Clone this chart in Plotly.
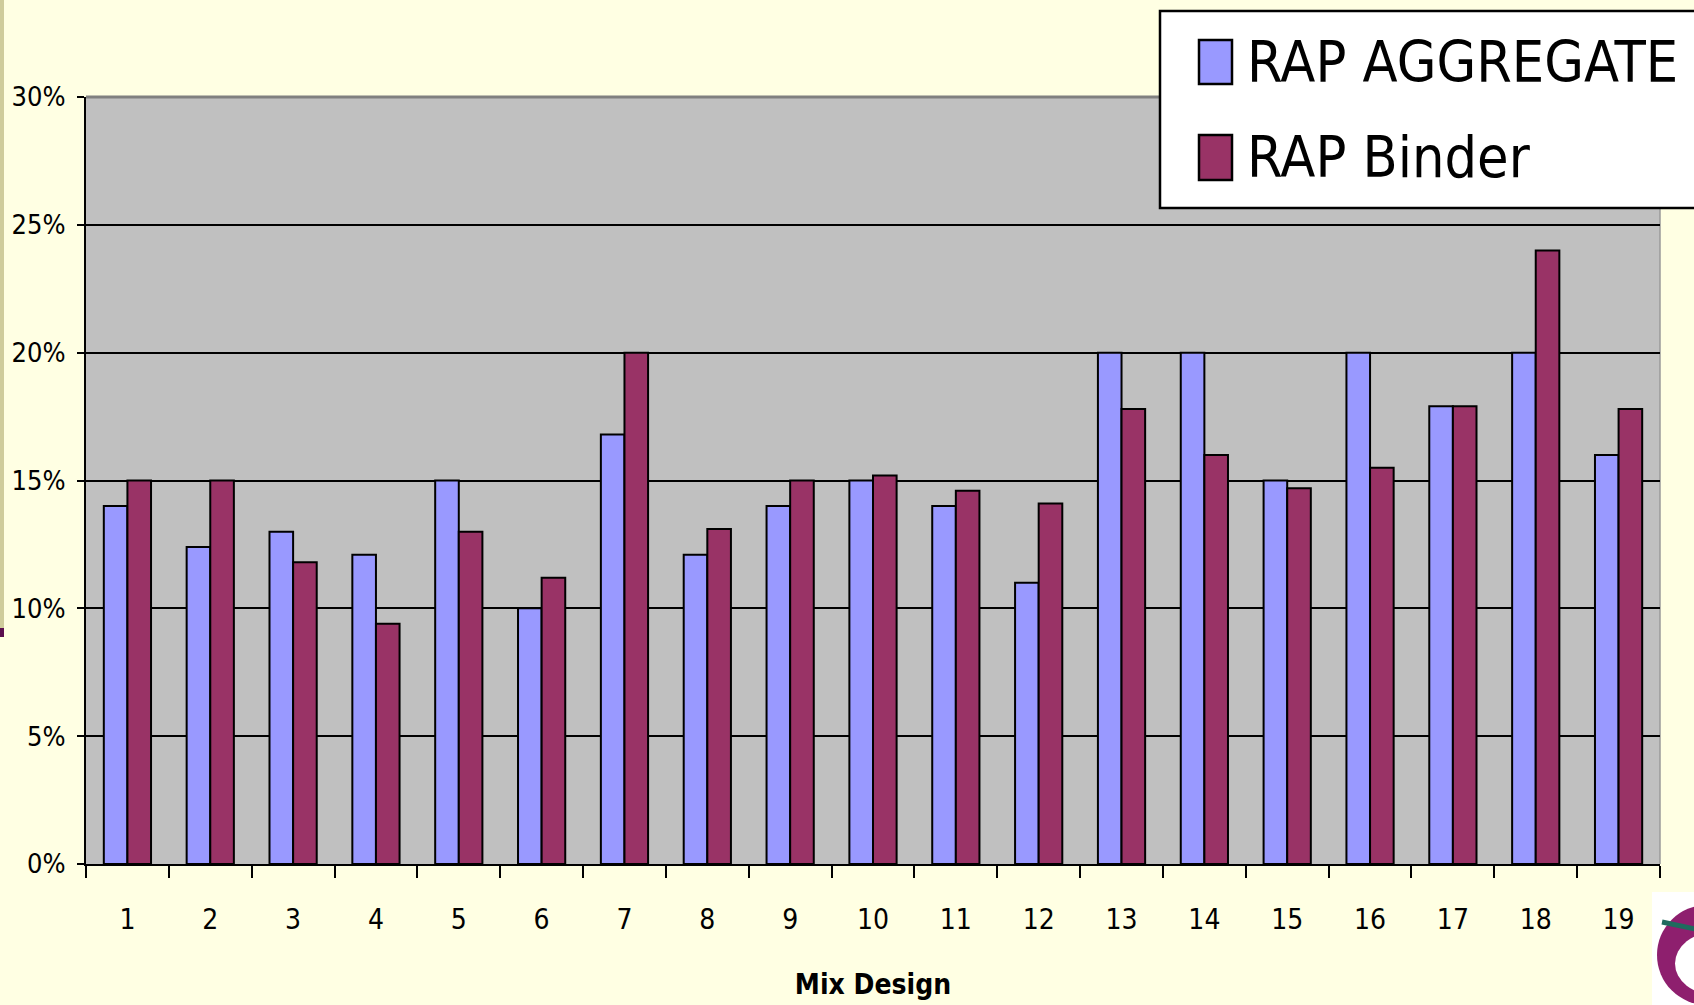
import plotly.graph_objects as go

# ---------------- data ----------------
mix_designs = [str(i) for i in range(1, 20)]
series_names = ["RAP AGGREGATE", "RAP Binder"]
rap_aggregate = [14, 12.4, 13, 12.1, 15, 10, 16.8, 12.1, 14, 15,
                 14, 11, 20, 20, 15, 20, 17.9, 20, 16]
rap_binder = [15, 15, 11.8, 9.4, 13, 11.2, 20, 13.1, 15, 15.2,
              14.6, 14.1, 17.8, 16, 14.7, 15.5, 17.9, 24, 17.8]
y_ticks = [0, 5, 10, 15, 20, 25, 30]
y_ticklabels = ["0%", "5%", "10%", "15%", "20%", "25%", "30%"]
x_title = "Mix Design"

# ---------------- style ----------------
W, H = 1694, 1005
ML, MR, MT, MB = 86, 34, 97, 141
PW, PH = W - ML - MR, H - MT - MB
FONT = "Liberation Sans Narrow, DejaVu Sans Condensed, Roboto Condensed, Roboto, sans-serif"
C_AGG = "#9999FF"
C_BIN = "#993366"
BG = "#FFFFE3"


def px2x(px):
    return (px - ML) / PW


def px2y(py):
    return (H - MB - py) / PH


fig = go.Figure()
fig.add_trace(go.Bar(x=mix_designs, y=rap_aggregate, name=series_names[0],
                     marker=dict(color=C_AGG, line=dict(color="black", width=2)),
                     showlegend=False))
fig.add_trace(go.Bar(x=mix_designs, y=rap_binder, name=series_names[1],
                     marker=dict(color=C_BIN, line=dict(color="black", width=2)),
                     showlegend=False))

shapes = []
# grey top / right border of plot area
shapes.append(dict(type="line", xref="paper", yref="paper", x0=0, x1=1, y0=1, y1=1,
                   line=dict(color="#808080", width=3), layer="above"))
shapes.append(dict(type="line", xref="paper", yref="paper", x0=1, x1=1, y0=0, y1=1,
                   line=dict(color="#9A9A9A", width=1.5), layer="below"))
# left edge strip of the slide
shapes.append(dict(type="rect", xref="paper", yref="paper", x0=px2x(0), x1=px2x(4),
                   y0=px2y(628), y1=px2y(0), fillcolor="#CFCC9C", line=dict(width=0)))
shapes.append(dict(type="rect", xref="paper", yref="paper", x0=px2x(0), x1=px2x(4),
                   y0=px2y(637), y1=px2y(628), fillcolor="#5B0F4F", line=dict(width=0)))
# logo fragment (bottom right)
shapes.append(dict(type="rect", xref="paper", yref="paper", x0=px2x(1652), x1=px2x(1700),
                   y0=px2y(1010), y1=px2y(892), fillcolor="white", line=dict(width=0)))
shapes.append(dict(type="circle", xref="paper", yref="paper", x0=px2x(1657), x1=px2x(1757),
                   y0=px2y(1005), y1=px2y(905), fillcolor="#8E1F6E", line=dict(width=0)))
shapes.append(dict(type="circle", xref="paper", yref="paper", x0=px2x(1675), x1=px2x(1755),
                   y0=px2y(995), y1=px2y(932), fillcolor="white", line=dict(width=0)))
shapes.append(dict(type="line", xref="paper", yref="paper", x0=px2x(1662), x1=px2x(1700),
                   y0=px2y(922), y1=px2y(930), line=dict(color="#1F6B5E", width=5)))

# legend box
shapes.append(dict(type="rect", xref="paper", yref="paper", x0=px2x(1160), x1=px2x(1710),
                   y0=px2y(208), y1=px2y(11), fillcolor="white",
                   line=dict(color="black", width=2.5), layer="above"))
leg_rows = [(40, 84, 62, C_AGG), (135, 180, 157, C_BIN)]
annotations = []
for (ytop, ybot, ymid, col), name in zip(leg_rows, series_names):
    shapes.append(dict(type="rect", xref="paper", yref="paper", x0=px2x(1199), x1=px2x(1232),
                       y0=px2y(ybot), y1=px2y(ytop), fillcolor=col,
                       line=dict(color="black", width=2.5), layer="above"))
    annotations.append(dict(text=name, xref="paper", yref="paper", x=px2x(1245),
                            y=px2y(ymid), xanchor="left", yanchor="middle",
                            showarrow=False, font=dict(family=FONT, size=57, color="black")))

fig.update_layout(
    width=W, height=H,
    margin=dict(l=ML, r=MR, t=MT, b=MB),
    paper_bgcolor=BG, plot_bgcolor="#C0C0C0",
    barmode="group", bargap=0.43, bargroupgap=0,
    shapes=shapes, annotations=annotations,
    showlegend=False,
    xaxis=dict(
        type="category", tickson="boundaries", ticks="outside", ticklen=12,
        tickwidth=2, tickcolor="black", showline=True, linecolor="black", linewidth=2,
        showgrid=False, ticklabelstandoff=29, automargin=False,
        tickfont=dict(family=FONT, size=28, color="black"),
        title=dict(text="<b>" + x_title + "</b>", standoff=40,
                   font=dict(family=FONT, size=28, color="black")),
    ),
    yaxis=dict(
        range=[0, 30], tickmode="array", tickvals=y_ticks, ticktext=y_ticklabels,
        ticks="outside", ticklen=7, automargin=False,
        tickwidth=2, tickcolor="black", showline=True, linecolor="black", linewidth=2,
        showgrid=True, gridcolor="black", gridwidth=2.2, zeroline=False,
        ticklabelstandoff=6,
        tickfont=dict(family=FONT, size=27, color="black"),
    ),
)

fig.write_html("out.html", config={"displayModeBar": False},
               post_script="document.body.style.margin='0';")
